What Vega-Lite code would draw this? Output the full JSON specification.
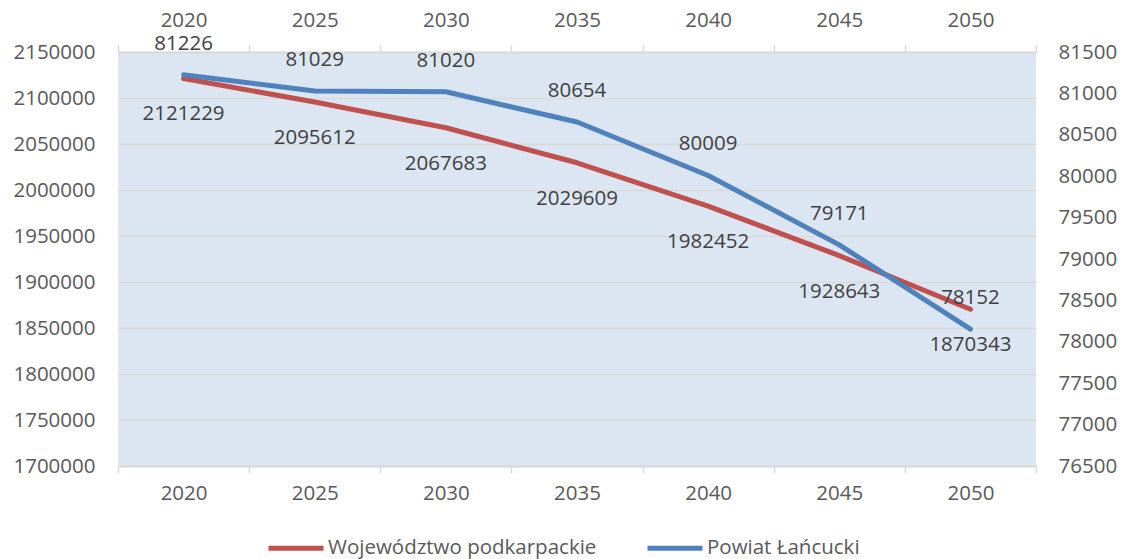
{
  "$schema": "https://vega.github.io/schema/vega-lite/v6.json",
  "width": 918,
  "height": 414,
  "autosize": {"type": "none"},
  "padding": {"left": 118, "top": 52, "right": 85, "bottom": 93},
  "background": "#ffffff",
  "config": {
    "view": {"fill": "#dce6f2", "stroke": null},
    "font": "Open Sans",
    "axis": {"labelFont": "Open Sans", "labelFontSize": 20.5, "labelColor": "#595959", "title": null}
  },
  "data": {
    "values": [
      {"year": "2020", "series": "Województwo podkarpackie", "value": 2121229},
      {"year": "2025", "series": "Województwo podkarpackie", "value": 2095612},
      {"year": "2030", "series": "Województwo podkarpackie", "value": 2067683},
      {"year": "2035", "series": "Województwo podkarpackie", "value": 2029609},
      {"year": "2040", "series": "Województwo podkarpackie", "value": 1982452},
      {"year": "2045", "series": "Województwo podkarpackie", "value": 1928643},
      {"year": "2050", "series": "Województwo podkarpackie", "value": 1870343},
      {"year": "2020", "series": "Powiat Łańcucki", "value": 81226},
      {"year": "2025", "series": "Powiat Łańcucki", "value": 81029},
      {"year": "2030", "series": "Powiat Łańcucki", "value": 81020},
      {"year": "2035", "series": "Powiat Łańcucki", "value": 80654},
      {"year": "2040", "series": "Powiat Łańcucki", "value": 80009},
      {"year": "2045", "series": "Powiat Łańcucki", "value": 79171},
      {"year": "2050", "series": "Powiat Łańcucki", "value": 78152}
    ]
  },
  "layer": [
    {
      "transform": [{"filter": "datum.series === 'Województwo podkarpackie'"}],
      "encoding": {
        "x": {
          "field": "year", "type": "ordinal", "bandPosition": 0.5,
          "scale": {"type": "band", "paddingInner": 0, "paddingOuter": 0},
          "axis": {"orient": "bottom", "labelAngle": 0, "tickBand": "extent", "domainColor": "#d9d9d9", "domainWidth": 2, "tickColor": "#d9d9d9", "tickWidth": 1.5, "tickSize": 7, "labelPadding": 10, "grid": false}
        },
        "y": {
          "field": "value", "type": "quantitative",
          "scale": {"domain": [1700000, 2150000], "nice": false, "zero": false},
          "axis": {"orient": "left", "values": [1700000, 1750000, 1800000, 1850000, 1900000, 1950000, 2000000, 2050000, 2100000, 2150000], "format": "d", "domain": false, "ticks": false, "labelPadding": 23, "grid": true, "gridColor": "#d9d9d9", "gridWidth": 1.5}
        }
      },
      "layer": [
        {
          "mark": {"type": "line", "strokeWidth": 5, "strokeCap": "round", "strokeJoin": "round"},
          "encoding": {
            "color": {"field": "series", "type": "nominal",
              "scale": {"domain": ["Województwo podkarpackie", "Powiat Łańcucki"], "range": ["#c0504d", "#4f81bd"]},
              "legend": {"title": null, "orient": "none", "legendX": 148, "legendY": 466, "direction": "horizontal", "symbolType": "stroke", "symbolSize": 3025, "symbolStrokeWidth": 5, "labelFont": "Open Sans", "labelFontSize": 20.5, "labelColor": "#595959", "labelOffset": 2, "labelLimit": 500, "columnPadding": 40}
            }
          }
        },
        {
          "mark": {"type": "text", "dy": 36, "fontSize": 20.5, "font": "Open Sans", "color": "#404040"},
          "encoding": {"text": {"field": "value", "type": "quantitative", "format": "d"}}
        }
      ]
    },
    {
      "transform": [{"filter": "datum.series === 'Powiat Łańcucki'"}],
      "encoding": {
        "x": {
          "field": "year", "type": "ordinal", "bandPosition": 0.5,
          "scale": {"type": "band", "paddingInner": 0, "paddingOuter": 0},
          "axis": {"orient": "top", "labelAngle": 0, "tickBand": "extent", "domainColor": "#d9d9d9", "domainWidth": 2, "tickColor": "#d9d9d9", "tickWidth": 1.5, "tickSize": 7, "labelPadding": 15, "grid": false}
        },
        "y": {
          "field": "value", "type": "quantitative",
          "scale": {"domain": [76500, 81500], "nice": false, "zero": false},
          "axis": {"orient": "right", "values": [76500, 77000, 77500, 78000, 78500, 79000, 79500, 80000, 80500, 81000, 81500], "format": "d", "domain": false, "ticks": false, "labelPadding": 22, "grid": false}
        }
      },
      "layer": [
        {
          "mark": {"type": "line", "strokeWidth": 5, "strokeCap": "round", "strokeJoin": "round"},
          "encoding": {
            "color": {"field": "series", "type": "nominal"}
          }
        },
        {
          "mark": {"type": "text", "dy": -31, "fontSize": 20.5, "font": "Open Sans", "color": "#404040"},
          "encoding": {"text": {"field": "value", "type": "quantitative", "format": "d"}}
        }
      ]
    }
  ],
  "resolve": {"scale": {"y": "independent"}, "axis": {"x": "independent"}}
}
